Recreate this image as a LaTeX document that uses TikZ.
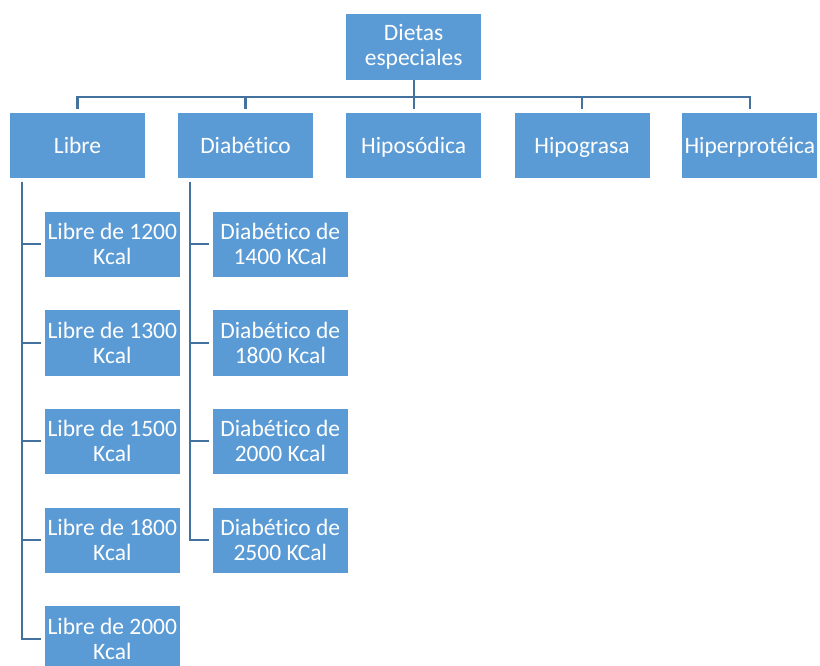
\documentclass[tikz,border=0pt]{standalone}
\usepackage{fontspec}
\setmainfont{Carlito}[Ligatures=NoCommon]
\definecolor{boxfill}{HTML}{5B9BD5}
\definecolor{linecol}{HTML}{43729F}
\tikzset{
  box/.style={rectangle, fill=boxfill, draw=white, line width=0.8pt,
    minimum width=136pt, minimum height=66.5pt, inner sep=0pt,
    align=center, text=white, font=\fontsize{23.5}{25}\selectfont},
  single/.style={text height=17pt, text depth=1pt},
  conn/.style={draw=linecol, line width=2.3pt},
}
\begin{document}
\begin{tikzpicture}[x=1pt,y=-1pt]
\clip (0,0) rectangle (820,666);
\fill[white] (0,0) rectangle (820,666);
\node[box] (top) at (413.7,46.7) {Dietas\\especiales};
\node[box, single] (libre) at (77.5,145.3) {Libre};
\node[box, single] (diab) at (245.5,145.3) {Diabético};
\node[box, single] (hipos) at (413.7,145.3) {Hiposódica};
\node[box, single] (hipog) at (582,145.3) {Hipograsa};
\node[box, single] (hiper) at (749.8,145.3) {Hiperprotéica};
\node[box] (l1) at (112.3,244.2) {Libre de 1200\\Kcal};
\node[box] (l2) at (112.3,342.8) {Libre de 1300\\Kcal};
\node[box] (l3) at (112.3,441.3) {Libre de 1500\\Kcal};
\node[box] (l4) at (112.3,540.3) {Libre de 1800\\Kcal};
\node[box] (l5) at (112.3,638.9) {Libre de 2000\\Kcal};
\node[box] (d1) at (280.3,244.2) {Diabético de\\1400 KCal};
\node[box] (d2) at (280.3,342.8) {Diabético de\\1800 Kcal};
\node[box] (d3) at (280.3,441.3) {Diabético de\\2000 Kcal};
\node[box] (d4) at (280.3,540.3) {Diabético de\\2500 KCal};
\coordinate (bus) at (413.7,96.7);
\foreach \c in {libre,diab,hipos,hipog,hiper}{
  \draw[conn, shorten >=3pt] (top.south) -- (bus) -| (\c.north);
}
\coordinate (ltop) at ([xshift=12.7pt,yshift=-3pt]libre.south west);
\coordinate (dtop) at ([xshift=12.7pt,yshift=-3pt]diab.south west);
\foreach \c in {l1,l2,l3,l4,l5}{
  \draw[conn, shorten >=2.5pt] (ltop) |- (\c.west);
}
\foreach \c in {d1,d2,d3,d4}{
  \draw[conn, shorten >=2.5pt] (dtop) |- (\c.west);
}
\end{tikzpicture}
\end{document}
